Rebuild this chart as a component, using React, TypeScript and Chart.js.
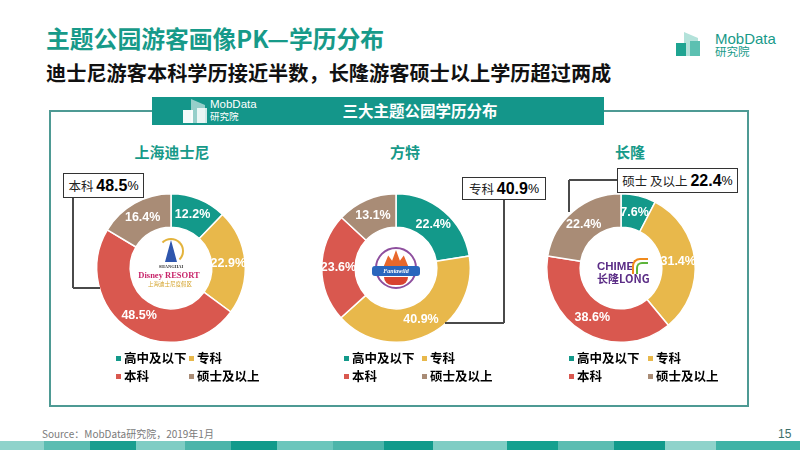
import React, { useEffect, useRef } from "react";
import { Chart, registerables } from "chart.js";

Chart.register(...registerables);

// ---------- data ----------
const categories = ["高中及以下", "专科", "本科", "硕士及以上"];
const parkNames = ["上海迪士尼", "方特", "长隆"];
const disneyValues = [12.2, 22.9, 48.5, 16.4];
const fantawildValues = [22.4, 40.9, 23.6, 13.1];
const chimelongValues = [7.6, 31.4, 38.6, 22.4];
const calloutLabels = ["本科", "专科", "硕士 及以上"];
const calloutIndex = [2, 1, 3];
const segmentColors = ["#13998a", "#e8b84b", "#d9584f", "#a98c76"];

const TEAL = "#179a89";
const FONT = '"Noto Sans CJK SC", "Liberation Sans", sans-serif';

const labelPlugin = {
  id: "segLabels",
  afterDatasetsDraw(chart: any) {
    const ctx = chart.ctx;
    const meta = chart.getDatasetMeta(0);
    const data = chart.data.datasets[0].data as number[];
    ctx.save();
    ctx.font = 'bold 12.5px "Liberation Sans", Arial, sans-serif';
    ctx.fillStyle = "#ffffff";
    ctx.textAlign = "center";
    ctx.textBaseline = "middle";
    meta.data.forEach((arc: any, i: number) => {
      const p = arc.tooltipPosition(false);
      ctx.fillText(data[i].toFixed(1) + "%", p.x, p.y);
    });
    ctx.restore();
  },
};

function Donut({ values, cx, cy }: { values: number[]; cx: number; cy: number }) {
  const ref = useRef<HTMLCanvasElement>(null);
  useEffect(() => {
    if (!ref.current) return;
    const chart = new Chart(ref.current, {
      type: "doughnut",
      data: {
        labels: categories,
        datasets: [
          {
            data: values,
            backgroundColor: segmentColors,
            borderColor: "#ffffff",
            borderWidth: 1.5,
          },
        ],
      },
      options: {
        responsive: false,
        maintainAspectRatio: false,
        animation: false,
        cutout: "55%",
        layout: { padding: 5 },
        plugins: { legend: { display: false }, tooltip: { enabled: false } },
      },
      plugins: [labelPlugin],
    });
    return () => chart.destroy();
  }, [values]);
  return (
    <canvas
      ref={ref}
      width={160}
      height={160}
      style={{ position: "absolute", left: cx - 80, top: cy - 80, width: 160, height: 160 }}
    />
  );
}

function T(props: {
  x: number;
  y: number;
  size: number;
  color?: string;
  weight?: any;
  center?: boolean;
  family?: string;
  children: any;
  style?: any;
}) {
  return (
    <div
      style={{
        position: "absolute",
        left: props.x,
        top: props.y,
        transform: props.center ? "translate(-50%,-50%)" : "translateY(-50%)",
        fontSize: props.size,
        lineHeight: 1,
        color: props.color || "#000",
        fontWeight: props.weight || "normal",
        fontFamily: props.family || FONT,
        whiteSpace: "nowrap",
        ...(props.style || {}),
      }}
    >
      {props.children}
    </div>
  );
}

function Box(props: { x: number; y: number; w: number; h: number; style?: any; children?: any }) {
  return (
    <div
      style={{
        position: "absolute",
        left: props.x,
        top: props.y,
        width: props.w,
        height: props.h,
        boxSizing: "border-box",
        ...(props.style || {}),
      }}
    >
      {props.children}
    </div>
  );
}

function Legend({ x1, x2 }: { x1: number; x2: number }) {
  const rows = [358, 376];
  const pos = [
    [x1, rows[0]],
    [x2, rows[0]],
    [x1, rows[1]],
    [x2, rows[1]],
  ];
  return (
    <>
      {categories.map((c, i) => (
        <React.Fragment key={c}>
          <Box x={pos[i][0]} y={pos[i][1] - 2.5} w={5} h={5} style={{ background: segmentColors[i] }} />
          <T x={pos[i][0] + 8} y={pos[i][1]} size={12.5} weight="bold">
            {c}
          </T>
        </React.Fragment>
      ))}
    </>
  );
}

function Callout(props: { x: number; y: number; w: number; h: number; label: string; value: number }) {
  return (
    <Box
      x={props.x}
      y={props.y}
      w={props.w}
      h={props.h}
      style={{
        border: "1.3px solid #333",
        background: "#fff",
        display: "flex",
        alignItems: "center",
        justifyContent: "center",
        whiteSpace: "nowrap",
        fontFamily: FONT,
      }}
    >
      <span style={{ fontSize: 12.5, color: "#222" }}>{props.label}&nbsp;</span>
      <span style={{ fontSize: 16, fontWeight: "bold", fontFamily: '"Liberation Sans", Arial, sans-serif' }}>
        {props.value.toFixed(1)}
      </span>
      <span style={{ fontSize: 12.5, fontFamily: '"Liberation Sans", Arial, sans-serif' }}>%</span>
    </Box>
  );
}

const LINE = "#4a4a4a";
function HLine({ x1, x2, y }: { x1: number; x2: number; y: number }) {
  return <Box x={x1} y={y - 0.65} w={x2 - x1} h={1.3} style={{ background: LINE }} />;
}
function VLine({ x, y1, y2 }: { x: number; y1: number; y2: number }) {
  return <Box x={x - 0.65} y={y1} w={1.3} h={y2 - y1} style={{ background: LINE }} />;
}

const stripe = [
  ["#8fd3cb", 44], ["#5bbdb2", 46], ["#1a9e8f", 46], ["#7fcdc4", 49], ["#4cb5aa", 46],
  ["#119a8b", 46], ["#6cc6bc", 56], ["#4cb5aa", 51], ["#119a8b", 49], ["#7fcdc4", 74],
  ["#15a08f", 51], ["#5bbdb2", 56], ["#119a8b", 51], ["#8fd3cb", 51], ["#3fb3a6", 84],
];

function MobIcon({ x, y, light }: { x: number; y: number; light?: boolean }) {
  const c1 = light ? "rgba(255,255,255,0.55)" : "#b3e2da";
  const c2 = light ? "rgba(255,255,255,0.95)" : "#1ea491";
  const c3 = light ? "rgba(255,255,255,0.8)" : "#5cc0b1";
  return (
    <>
      <Box x={x + 8} y={y} w={14} h={24} style={{ background: c1, clipPath: "polygon(0 0,100% 25%,100% 100%,0 100%)" }} />
      <Box x={x} y={y + 11} w={10} h={13} style={{ background: c2 }} />
      <Box x={x + 14} y={y + 9} w={10} h={15} style={{ background: c3 }} />
    </>
  );
}

export default function App() {
  const values = [disneyValues, fantawildValues, chimelongValues];
  const centers = [
    [171, 268],
    [396, 268],
    [621, 268],
  ];
  return (
    <div
      style={{
        position: "fixed",
        left: 0,
        top: 0,
        width: 800,
        height: 450,
        background: "#fff",
        overflow: "hidden",
        fontFamily: FONT,
      }}
    >
      {/* titles */}
      <T x={46} y={38} size={23.8} color={TEAL} weight="bold">
        主题公园游客画像PK—学历分布
      </T>
      <T x={46} y={73} size={20.2} weight="bold" color="#111">
        迪士尼游客本科学历接近半数，长隆游客硕士以上学历超过两成
      </T>

      {/* top-right logo */}
      <MobIcon x={676} y={32} />
      <T x={715} y={38} size={15} color={TEAL} family='"Liberation Sans", Arial, sans-serif'>
        MobData
      </T>
      <T x={715} y={52} size={11.5} color={TEAL}>
        研究院
      </T>

      {/* frame */}
      <Box x={49} y={110} w={700} h={297} style={{ border: "2px solid #4e9a94" }} />
      <Box x={152} y={97} w={452} h={28} style={{ background: "#14968a" }} />
      <MobIcon x={183} y={99} light />
      <T x={210} y={105} size={11.5} color="#fff" family='"Liberation Sans", Arial, sans-serif'>
        MobData
      </T>
      <T x={210} y={117} size={9.5} color="#fff">
        研究院
      </T>
      <T x={420} y={111} size={15.5} color="#fff" weight="bold" center>
        三大主题公园学历分布
      </T>

      {/* park titles */}
      {parkNames.map((p, i) => (
        <T key={p} x={[172, 405, 630][i]} y={151} size={15} color={TEAL} weight="bold" center>
          {p}
        </T>
      ))}

      {/* doughnuts */}
      {values.map((v, i) => (
        <Donut key={i} values={v} cx={centers[i][0]} cy={centers[i][1]} />
      ))}

      {/* center logos (approximations) */}
      {/* Disney */}
      <Box x={165} y={240} w={12} h={22} style={{ background: "#2f56ad", clipPath: "polygon(50% 0,70% 40%,100% 100%,0 100%,30% 40%)" }} />
      <Box x={158} y={238} w={26} h={26} style={{ border: "2px solid #e3b33c", borderRadius: "50%", borderBottomColor: "transparent", borderLeftColor: "transparent" }} />
      <T x={171} y={267} size={4.5} color="#333" weight="bold" center family='"Liberation Serif", serif'>
        SHANGHAI
      </T>
      <T x={169} y={275} size={8.5} color="#c8246a" weight="bold" center family='"Liberation Serif", serif'>
        Disney RESORT
      </T>
      <T x={170} y={285} size={5.5} color="#d4a32a" center>
        上海迪士尼度假区
      </T>

      {/* Fantawild */}
      <Box x={375} y={247} w={42} h={42} style={{ border: "2px solid #8e4f9e", borderRadius: "50%" }} />
      <Box x={383} y={250} w={26} h={18} style={{ background: "#e8682c", clipPath: "polygon(0 100%,20% 30%,35% 60%,50% 0,65% 60%,80% 30%,100% 100%)" }} />
      <Box x={372} y={266} w={48} h={10} style={{ background: "#2a66bd", borderRadius: 3 }} />
      <T x={396} y={271} size={6} color="#fff" weight="bold" center style={{ fontStyle: "italic" }} family='"Liberation Serif", serif'>
        Fantawild
      </T>
      <Box x={384} y={277} w={24} h={8} style={{ background: "#d8432f", borderRadius: "0 0 10px 10px" }} />

      {/* Chimelong */}
      <T x={597} y={267} size={11.5} color="#5b2d86" weight="bold" family='"Liberation Sans", Arial, sans-serif'>
        CHIME
      </T>
      <T x={597} y={278} size={11} color="#5b2d86" weight="bold">
        长隆LONG
      </T>
      <Box x={632} y={258} w={16} h={16} style={{ borderTop: "2px solid #f08a1c", borderLeft: "2px solid #f08a1c", borderRadius: "50% 0 0 0" }} />
      <Box x={636} y={262} w={12} h={12} style={{ borderTop: "2px solid #5db43a", borderLeft: "2px solid #5db43a", borderRadius: "50% 0 0 0" }} />

      {/* callouts */}
      <VLine x={73} y1={198} y2={288} />
      <HLine x1={73} x2={100} y={288} />
      <Callout x={63} y={173} w={81} h={25} label={calloutLabels[0]} value={disneyValues[calloutIndex[0]]} />

      <VLine x={504} y1={199} y2={323} />
      <HLine x1={445} x2={504} y={323} />
      <Callout x={462} y={177} w={84} h={23} label={calloutLabels[1]} value={fantawildValues[calloutIndex[1]]} />

      <HLine x1={569} x2={617} y={180} />
      <VLine x={569} y1={180} y2={212} />
      <Callout x={617} y={168} w={121} h={25} label={calloutLabels[2]} value={chimelongValues[calloutIndex[2]]} />

      {/* legends */}
      <Legend x1={116} x2={189} />
      <Legend x1={344} x2={422} />
      <Legend x1={569} x2={648} />

      {/* footer */}
      <T x={42} y={434} size={10} color="#7a7a7a">
        Source：MobData研究院，2019年1月
      </T>
      <T x={778} y={434} size={12} color="#3d6f6a" family='"Liberation Sans", Arial, sans-serif'>
        15
      </T>
      <div style={{ position: "absolute", left: 0, top: 441, width: 800, height: 9, display: "flex" }}>
        {stripe.map((s, i) => (
          <div key={i} style={{ width: s[1] as number, height: 9, background: s[0] as string }} />
        ))}
      </div>
    </div>
  );
}
